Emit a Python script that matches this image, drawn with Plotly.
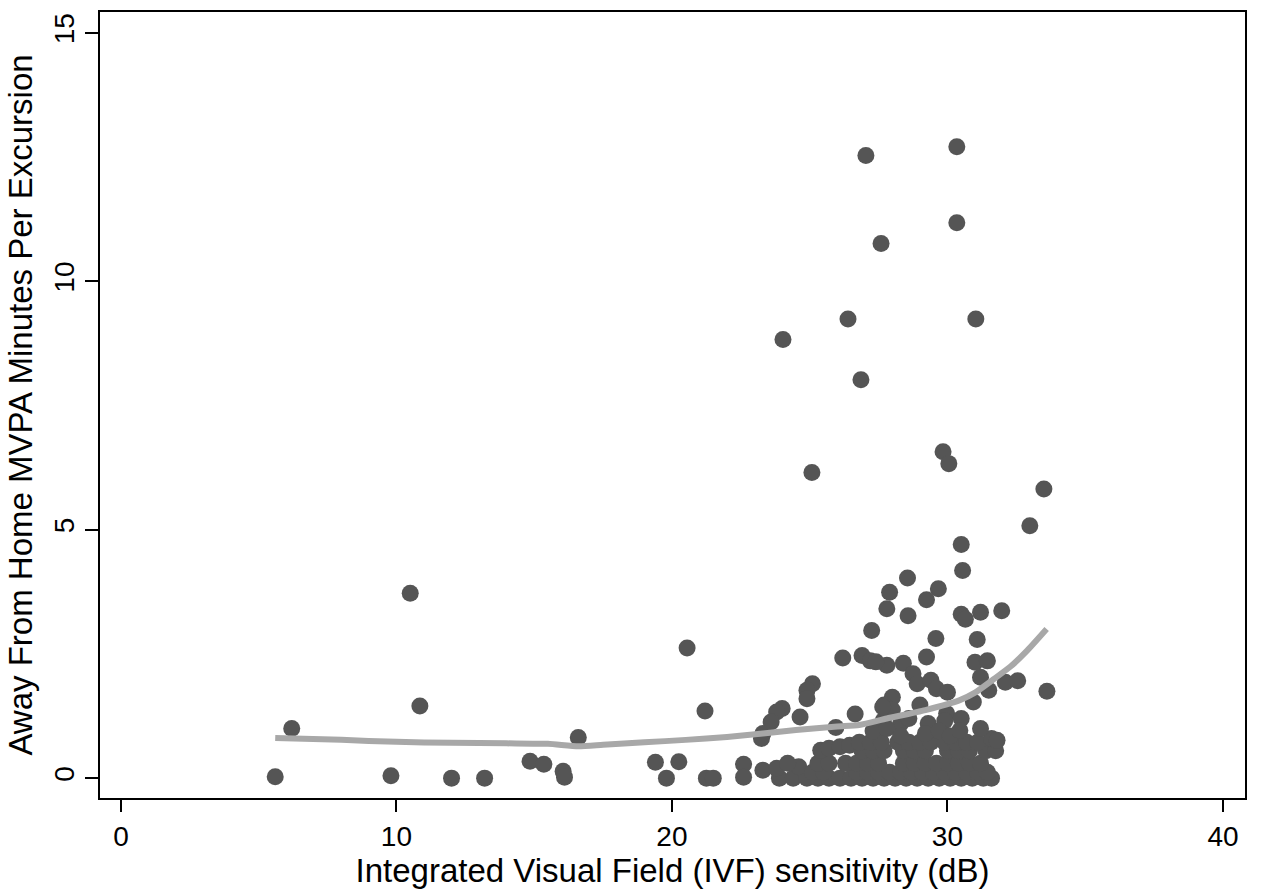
import plotly.graph_objects as go

# Scatter data: IVF sensitivity (dB) vs away-from-home MVPA minutes per excursion
ivf = [
    # sparse low-IVF points
    5.6, 6.2, 9.8, 10.5, 10.85, 12.0, 13.2, 14.85, 15.35, 16.05, 16.1, 16.6,
    19.4, 19.8, 20.25, 20.55, 21.2, 21.25, 21.5, 22.6, 22.6,
    # high outliers
    24.03, 25.08, 26.39, 26.86, 27.59, 27.04, 30.34, 30.34, 31.03, 29.84, 30.05,
    32.99, 33.5, 33.61,
    # 2.5 - 5 band
    30.5, 30.55, 28.55, 27.9, 29.67, 29.24, 27.8, 28.57, 30.5, 30.65, 31.2, 31.97,
    27.25, 29.58, 31.08,
    # 1 - 2.5 band
    26.2, 26.9, 27.2, 27.8, 27.4, 28.4, 28.75, 28.9, 29.24, 29.4, 29.6, 30.0,
    31.0, 31.45, 31.2, 31.5, 32.1, 32.55, 28.0, 27.7, 28.0, 29.0, 29.97, 30.94,
    27.67, 27.65, 26.65, 25.95, 25.1, 24.9, 24.9, 24.65, 24.0, 23.8, 23.6,
    23.3, 23.25, 28.3, 29.3, 29.9, 30.5, 28.6,
    # dense cluster, y ~ 0
    23.9, 24.4, 24.9, 25.3, 25.7, 26.1, 26.5, 26.9, 27.3, 27.7, 28.1, 28.5,
    28.9, 29.3, 29.7, 30.1, 30.5, 30.9, 31.3, 31.6,
    # y ~ 0.12
    23.3, 23.8, 24.6, 25.1, 25.5, 26.7, 27.1, 27.5, 27.9, 28.3, 28.7, 29.1,
    29.5, 29.9, 30.3, 30.7, 31.1, 31.45,
    # y ~ 0.3
    24.2, 25.3, 25.7, 26.3, 26.7, 27.1, 27.5, 28.4, 28.8, 29.2, 29.6, 30.0,
    30.4, 30.8, 31.2,
    # y ~ 0.55
    25.4, 25.7, 26.1, 26.45, 26.9, 27.3, 27.7, 28.4, 28.8, 29.2, 30.0, 30.4,
    30.8, 31.4, 31.75,
    # y ~ 0.7
    26.8, 27.2, 27.6, 28.2, 28.6, 29.0, 29.4, 29.9, 30.3, 30.7, 31.1, 31.6,
    # y ~ 0.9
    27.3, 27.8, 28.3, 29.2, 29.7, 30.1, 30.45, 31.2, 31.8,
]
mvpa = [
    0.03, 1.0, 0.05, 3.72, 1.45, 0.0, 0.0, 0.34, 0.28, 0.14, 0.02, 0.82,
    0.32, 0.0, 0.33, 2.62, 1.35, 0.0, 0.0, 0.28, 0.02,
    8.83, 6.15, 9.24, 8.02, 10.76, 12.53, 12.71, 11.18, 9.24, 6.57, 6.33,
    5.08, 5.82, 1.75,
    4.7, 4.18, 4.03, 3.74, 3.81, 3.59, 3.41, 3.27, 3.3, 3.2, 3.34, 3.37,
    2.97, 2.81, 2.79,
    2.42, 2.47, 2.36, 2.27, 2.34, 2.31, 2.1, 1.9, 2.44, 1.97, 1.8, 1.73,
    2.33, 2.36, 2.03, 1.77, 1.93, 1.96, 1.63, 1.47, 1.37, 1.47, 1.3, 1.53,
    1.16, 1.43, 1.29, 1.02, 1.9, 1.77, 1.6, 1.23, 1.4, 1.33, 1.13,
    0.9, 0.8, 1.1, 1.1, 1.15, 1.2, 1.2,
    0.0, 0.0, 0.0, 0.0, 0.0, 0.0, 0.0, 0.0, 0.0, 0.0, 0.0, 0.0,
    0.0, 0.0, 0.0, 0.0, 0.0, 0.0, 0.0, 0.0,
    0.16, 0.2, 0.23, 0.12, 0.12, 0.12, 0.12, 0.12, 0.12, 0.12, 0.12, 0.12,
    0.12, 0.12, 0.12, 0.12, 0.12, 0.12,
    0.3, 0.3, 0.3, 0.3, 0.3, 0.3, 0.3, 0.3, 0.3, 0.3, 0.3, 0.3,
    0.3, 0.3, 0.3,
    0.56, 0.6, 0.63, 0.66, 0.55, 0.55, 0.55, 0.55, 0.55, 0.55, 0.55, 0.55,
    0.55, 0.55, 0.55,
    0.72, 0.72, 0.72, 0.72, 0.72, 0.72, 0.72, 0.72, 0.72, 0.72, 0.72, 0.8,
    0.95, 1.0, 0.85, 0.9, 0.95, 0.85, 0.96, 1.0, 0.76,
]

# Lowess smoother
lowess_x = [5.6, 8.0, 10.0, 12.0, 14.0, 15.5, 16.6, 17.5, 19.0, 20.5, 22.0, 23.3,
            24.5, 26.0, 26.8, 27.8, 29.2, 30.45, 31.0, 31.7, 32.3, 32.9, 33.6]
lowess_y = [0.81, 0.77, 0.73, 0.71, 0.70, 0.69, 0.64, 0.67, 0.72, 0.77, 0.83, 0.90,
            0.97, 1.04, 1.07, 1.20, 1.37, 1.57, 1.72, 2.00, 2.25, 2.57, 3.00]

x_ticks = [0, 10, 20, 30, 40]
y_ticks = [0, 5, 10, 15]

FONT = "Liberation Sans, Arial, Helvetica, sans-serif"

fig = go.Figure()
fig.add_trace(go.Scatter(
    x=ivf, y=mvpa, mode="markers",
    marker=dict(size=17, color="#555555", line=dict(width=0)),
    showlegend=False, hoverinfo="x+y",
))
fig.add_trace(go.Scatter(
    x=lowess_x, y=lowess_y, mode="lines",
    line=dict(color="#a8a8a8", width=6, shape="spline", smoothing=0.6),
    showlegend=False,
))

fig.update_layout(
    width=1265, height=896,
    margin=dict(l=100, r=20, t=10, b=98),
    paper_bgcolor="white", plot_bgcolor="white",
    font=dict(family=FONT, color="black"),
    xaxis=dict(
        range=[-0.76, 40.8], tickvals=x_ticks, ticktext=[str(v) for v in x_ticks],
        ticks="outside", ticklen=12, tickwidth=2, tickcolor="black",
        showline=True, linewidth=2, linecolor="black", mirror=True,
        showgrid=False, zeroline=False,
        tickfont=dict(size=28, family=FONT),
        title=dict(text="Integrated Visual Field (IVF) sensitivity (dB)",
                   font=dict(size=33, family=FONT), standoff=6),
    ),
    yaxis=dict(
        range=[-0.40, 15.42], tickvals=y_ticks, ticktext=[str(v) for v in y_ticks],
        ticks="outside", ticklen=13, tickwidth=2, tickcolor="black",
        tickangle=-90,
        showline=True, linewidth=2, linecolor="black", mirror=True,
        showgrid=False, zeroline=False,
        tickfont=dict(size=28, family=FONT),
        title=dict(text="Away From Home MVPA Minutes Per Excursion",
                   font=dict(size=33, family=FONT), standoff=6),
    ),
)

fig.write_html("out.html")
